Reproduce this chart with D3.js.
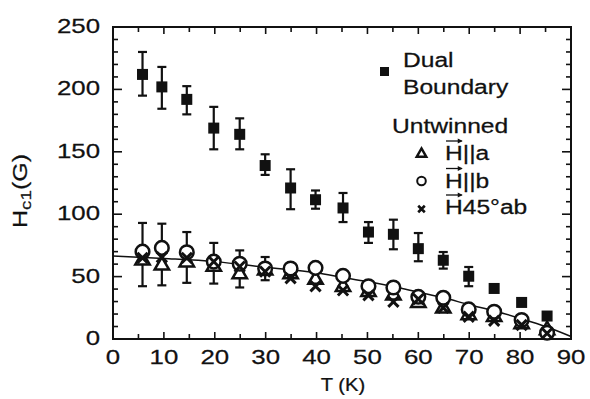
<!DOCTYPE html>
<html>
<head>
<meta charset="utf-8">
<script src="https://cdn.jsdelivr.net/npm/d3@7"></script>
<style>
  body { margin: 0; background: #fff; }
  text { font-family: "Liberation Sans", Arial, sans-serif; fill: #111; stroke: #111; stroke-width: 0.25; }
</style>
</head>
<body>
<svg width="590" height="399"></svg>
<script>
// temperatures (K) of the measurements
const temps = [5.8, 9.6, 14.5, 19.8, 24.9, 29.9, 34.9, 39.8, 45.2, 50.2, 55.1, 60, 64.9, 69.9, 74.9, 80.3, 85.3];
// dual boundary, filled squares, with error bar ends
const dual = [212, 202, 192, 169, 164, 139, 121, 111.6, 105, 85.7, 83.9, 72.4, 63.1, 50.3, 40.5, 29.3, 18.4];
const dualLo = [195, 184.5, 180, 152, 152, 131.5, 104, 104.4, 93.7, 77, 71.9, 62.3, 56.4, 42.3, null, null, null];
const dualHi = [230, 218, 202.6, 186, 176.8, 148, 136, 119, 117, 93.7, 95.6, 84.9, 69.7, 57.7, null, null, null];
// untwinned, H || b (circles)
const hb = [70, 73, 69.5, 62, 60.3, 56.5, 56.5, 57, 50.6, 42.3, 41.3, 33.8, 33, 23.7, 21.8, 15.2, 5];
const hbLo = [42.3, 43, 45, 44.4, 41.3, 47.1, null, null, null, null, null, null, null, null, null, null, null];
const hbHi = [93, 92.4, 85.7, 77, 71, 65.7, null, null, null, null, null, null, null, null, null, null, null];
// untwinned, H || a (triangles)
const ha = [63, 59, 61.5, 58, 52, 55, 52, 47.6, 41.8, 37.8, 35, 29, 24.5, 19.2, 17.8, 12, 7.2];
// untwinned, H 45 deg ab (crosses)
const h45 = [65, 65.5, 65, 62, 58, 54, 48.7, 42.3, 39, 35, 29.8, 32, 25, 17.8, 14.6, 11.2, 4.5];
// fit curve
const fitT = [0, 10, 20, 30, 40, 45, 50, 55, 60, 65, 70, 75, 80, 85, 90];
const fitH = [66.5, 64.5, 62, 57.5, 53, 49.5, 46, 42, 37.5, 33, 27.5, 22.5, 16.5, 10, 2];

const xTicks = [0, 10, 20, 30, 40, 50, 60, 70, 80, 90];
const yTicks = [0, 50, 100, 150, 200, 250];

const svg = d3.select("svg");
const x = d3.scaleLinear().domain([0, 90]).range([113, 571]);
const y = d3.scaleLinear().domain([0, 250]).range([339, 27]);
const SX = 1.23; // text in the figure is a bit wide

function label(g, str, px, py, size, anchor, sx) {
    return g.append("text")
        .attr("transform", `translate(${px},${py}) scale(${sx || SX},1)`)
        .attr("text-anchor", anchor || "start")
        .attr("font-size", size)
        .text(str);
}

// frame
svg.append("rect")
    .attr("x", x(0)).attr("y", y(250))
    .attr("width", x(90) - x(0)).attr("height", y(0) - y(250))
    .attr("fill", "none").attr("stroke", "#111").attr("stroke-width", 2);

// ticks, inward on all four sides
const tk = svg.append("g").attr("stroke", "#111").attr("stroke-width", 1.6);
d3.range(0, 91, 5).forEach(t => {
    if (t === 0 || t === 90) return;
    const len = t % 10 === 0 ? 7 : 5;
    tk.append("line").attr("x1", x(t)).attr("x2", x(t)).attr("y1", y(0)).attr("y2", y(0) - len);
    tk.append("line").attr("x1", x(t)).attr("x2", x(t)).attr("y1", y(250)).attr("y2", y(250) + len);
});
d3.range(0, 251, 10).forEach(v => {
    if (v === 0 || v === 250) return;
    const len = v % 50 === 0 ? 9 : 5;
    tk.append("line").attr("x1", x(0)).attr("x2", x(0) + len).attr("y1", y(v)).attr("y2", y(v));
    tk.append("line").attr("x1", x(90)).attr("x2", x(90) - len).attr("y1", y(v)).attr("y2", y(v));
});

// tick labels
xTicks.forEach(t => label(svg, t, x(t), 364, 21, "middle"));
yTicks.forEach(v => label(svg, v, 100, y(v) + 6, 21, "end"));

// axis titles
label(svg, "T (K)", 343, 391, 18, "middle", 1.12);
const yl = svg.append("text")
    .attr("transform", "translate(27,191) rotate(-90) scale(1.25,1)")
    .attr("text-anchor", "middle")
    .attr("font-size", 20);
yl.append("tspan").text("H");
yl.append("tspan").attr("font-size", 15).attr("dy", 4).text("c1");
yl.append("tspan").attr("dy", -4).text("(G)");

// fit line
svg.append("path")
    .datum(fitT.map((t, i) => [t, fitH[i]]))
    .attr("fill", "none").attr("stroke", "#111").attr("stroke-width", 1.5)
    .attr("d", d3.line().x(d => x(d[0])).y(d => y(d[1])).curve(d3.curveMonotoneX));

// error bars
function errBars(lo, hi) {
    const g = svg.append("g").attr("stroke", "#111").attr("stroke-width", 2.2);
    temps.forEach((t, i) => {
        if (lo[i] == null) return;
        g.append("line").attr("x1", x(t)).attr("x2", x(t)).attr("y1", y(lo[i])).attr("y2", y(hi[i]));
        [lo[i], hi[i]].forEach(v => g.append("line")
            .attr("x1", x(t) - 4.5).attr("x2", x(t) + 4.5).attr("y1", y(v)).attr("y2", y(v)));
    });
}
errBars(hbLo, hbHi);
errBars(dualLo, dualHi);

// markers
const tri = d3.symbol().type(d3.symbolTriangle).size(90);
svg.append("g").selectAll("path").data(temps).join("path")
    .attr("transform", (t, i) => `translate(${x(t)},${y(ha[i])})`)
    .attr("d", tri)
    .attr("fill", "#fff").attr("stroke", "#111").attr("stroke-width", 2.5);

svg.append("g").selectAll("circle").data(temps).join("circle")
    .attr("cx", t => x(t)).attr("cy", (t, i) => y(hb[i])).attr("r", 6.8)
    .attr("fill", "#fff").attr("stroke", "#111").attr("stroke-width", 2.5);

const cross = d3.symbol().type(d3.symbolX).size(70);
svg.append("g").selectAll("path").data(temps).join("path")
    .attr("transform", (t, i) => `translate(${x(t)},${y(h45[i])})`)
    .attr("d", cross)
    .attr("fill", "none").attr("stroke", "#111").attr("stroke-width", 3);

svg.append("g").selectAll("rect").data(temps).join("rect")
    .attr("x", t => x(t) - 5.5).attr("y", (t, i) => y(dual[i]) - 5.5)
    .attr("width", 11).attr("height", 11)
    .attr("fill", "#111");

// legend
const lg = svg.append("g");
lg.append("rect").attr("x", 380).attr("y", 67).attr("width", 9).attr("height", 9).attr("fill", "#111");
label(lg, "Dual", 403, 67, 20);
label(lg, "Boundary", 403, 94, 20);
label(lg, "Untwinned", 392, 132.5, 20);

lg.append("path").attr("transform", "translate(421.5,154)")
    .attr("d", d3.symbol().type(d3.symbolTriangle).size(40))
    .attr("fill", "#fff").attr("stroke", "#111").attr("stroke-width", 2.4);
lg.append("circle").attr("cx", 421.5).attr("cy", 181).attr("r", 4.3)
    .attr("fill", "#fff").attr("stroke", "#111").attr("stroke-width", 2);
lg.append("path").attr("transform", "translate(421.5,209)")
    .attr("d", d3.symbol().type(d3.symbolX).size(30))
    .attr("fill", "none").attr("stroke", "#111").attr("stroke-width", 2.6);

[["H||a", 160], ["H||b", 187.5], ["H45°ab", 214]].forEach(([s, by]) => {
    label(lg, s, 445, by, 20);
    // vector arrow over the H
    const ax = 445, aw = 0.722 * 20 * SX, ay = by - 19;
    lg.append("line").attr("x1", ax + 1).attr("x2", ax + aw - 1).attr("y1", ay).attr("y2", ay)
        .attr("stroke", "#111").attr("stroke-width", 1.3);
    lg.append("path")
        .attr("d", `M${ax + aw - 5},${ay - 2.5} L${ax + aw},${ay} L${ax + aw - 5},${ay + 2.5} Z`)
        .attr("fill", "#111");
});
</script>
</body>
</html>
